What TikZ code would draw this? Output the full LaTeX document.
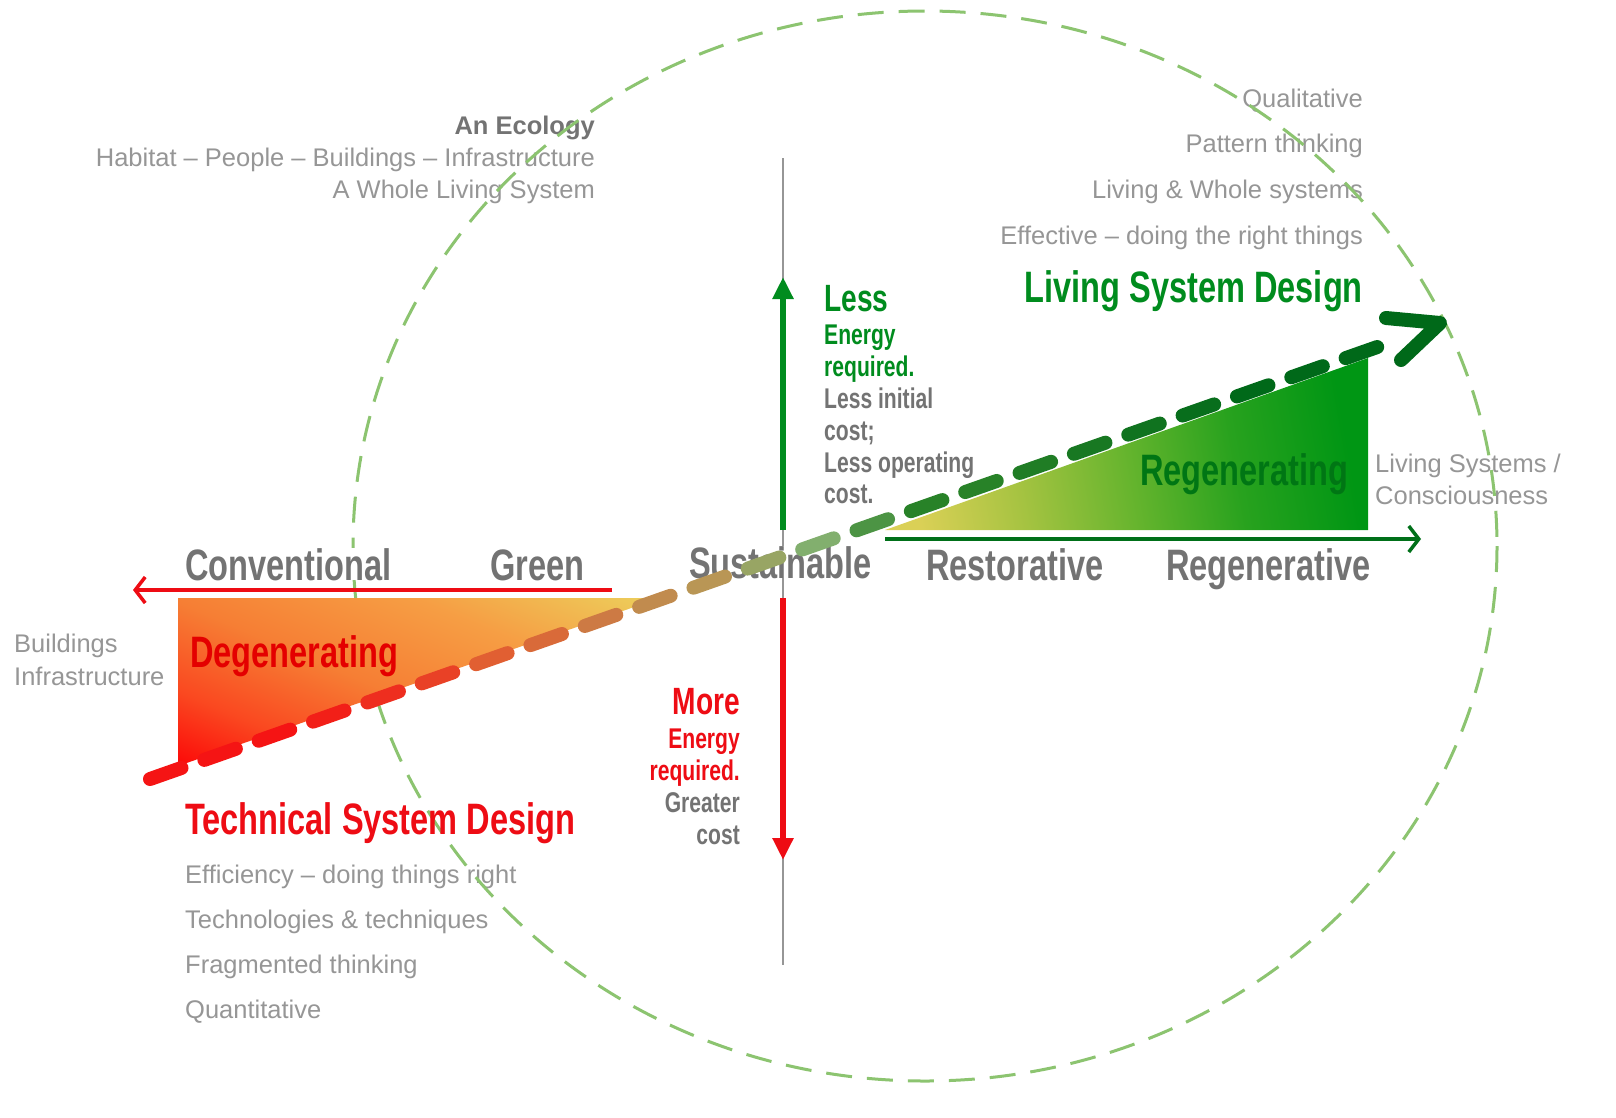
\documentclass[tikz,border=0pt]{standalone}
\usepackage{fontspec}
\setmainfont{Liberation Sans}
\newfontfamily\condbf[FakeStretch=0.74]{Liberation Sans Bold}
\usetikzlibrary{arrows.meta,calc}

\definecolor{ringgreen}{RGB}{140,196,112}
\definecolor{labgray}{RGB}{115,115,115}
\definecolor{softgray}{RGB}{150,150,150}
\definecolor{lsdgreen}{RGB}{0,140,30}
\definecolor{axgreen}{RGB}{0,112,25}
\definecolor{tsdred}{RGB}{238,12,20}
\definecolor{degtext}{RGB}{228,0,0}
\definecolor{degred}{RGB}{252,8,8}
\definecolor{degmid}{RGB}{250,72,32}
\definecolor{degorg}{RGB}{246,126,52}
\definecolor{deglight}{RGB}{246,158,68}
\definecolor{degyel}{RGB}{236,208,92}
\definecolor{regyel}{RGB}{218,208,86}
\definecolor{reglime}{RGB}{165,195,65}
\definecolor{regmid}{RGB}{100,180,45}
\definecolor{reggrn}{RGB}{40,162,30}
\definecolor{regdark}{RGB}{0,150,20}
\definecolor{regtext}{RGB}{0,118,20}
\definecolor{dred}{RGB}{245,20,20}
\definecolor{dorg}{RGB}{225,95,50}
\definecolor{dtan}{RGB}{185,150,85}
\definecolor{dpale}{RGB}{130,175,110}
\definecolor{dgrn}{RGB}{40,130,40}
\definecolor{ddark}{RGB}{0,105,25}

% gradients for the two wedges
\pgfdeclareverticalshading{degshade}{100bp}{color(0bp)=(degred); color(25bp)=(degred);
	color(35bp)=(degmid); color(47bp)=(degorg); color(61bp)=(deglight); color(75bp)=(degyel);
	color(100bp)=(degyel)}
\pgfdeclareverticalshading{regshade}{100bp}{color(0bp)=(regyel); color(25bp)=(regyel);
	color(37bp)=(reglime); color(50bp)=(regmid); color(62bp)=(reggrn); color(75bp)=(regdark);
	color(100bp)=(regdark)}

\tikzset{
	ring/.style={ringgreen, line width=3pt, dash pattern=on 26pt off 15pt},
	axisline/.style={softgray, line width=1.5pt},
	uparrow/.style={lsdgreen, line width=6pt, -{Triangle[length=22pt,width=20pt]}},
	downarrow/.style={tsdred, line width=6pt, -{Triangle[length=22pt,width=20pt]}},
	redaxis/.style={tsdred, line width=3.5pt, -{Straight Barb[length=10pt,width=26pt]}},
	greenaxis/.style={axgreen, line width=3.5pt, -{Straight Barb[length=10pt,width=26pt]}},
	bigdash/.style={line width=14pt, line cap=round, line join=round},
	steplbl/.style={inner sep=0pt, anchor=base west, labgray, fill=white, font=\condbf\fontsize{44}{50}\selectfont},
	headlbl/.style={inner sep=0pt, font=\condbf\fontsize{44}{50}\selectfont},
	sidelbl/.style={inner sep=0pt, font=\condbf\fontsize{28.5}{32}\selectfont},
	biglbl/.style={inner sep=0pt, font=\condbf\fontsize{38}{40}\selectfont},
	softtxt/.style={inner sep=0pt, softgray, font=\fontsize{25.5}{30}\selectfont},
}

\begin{document}
\begin{tikzpicture}[x=1pt,y=-1pt]
	\useasboundingbox[fill=white] (0,0) rectangle (1616,1117);

	% vertical axis
	\coordinate (axtop) at (783,158);
	\coordinate (axbot) at (783,965);
	\draw[axisline] (axtop) -- (axbot);

	% top left
	\node[softtxt, anchor=base east, labgray, font=\bfseries\fontsize{25.5}{30}\selectfont] (ecol) at (595,134) {An Ecology};
	\node[softtxt, anchor=base east] (habit) at (595,166) {Habitat – People – Buildings – Infrastructure};
	\node[softtxt, anchor=base east] (whole) at (595,198) {A Whole Living System};

	% top right
	\foreach \y/\t in {107/Qualitative, 152/Pattern thinking, 198/Living \& Whole systems, 244/Effective – doing the right things}
		\node[softtxt, anchor=base east] at (1363,\y) {\t};

	% sides
	\node[softtxt, anchor=base west] (bld) at (14,652) {Buildings};
	\node[softtxt, anchor=base west] (infra) at (14,685) {Infrastructure};
	\node[softtxt, anchor=base west] (lsys) at (1375,472) {Living Systems /};
	\node[softtxt, anchor=base west] (consc) at (1375,504) {Consciousness};

	% bottom left
	\foreach \y/\t in {883/Efficiency – doing things right, 928/Technologies \& techniques, 973/Fragmented thinking, 1018/Quantitative}
		\node[softtxt, anchor=base west] at (185,\y) {\t};

	% dashed ring
	\draw[ring] (925,546) ellipse [x radius=572, y radius=535];

	% the two wedges
	\coordinate (dtl) at (178,598);
	\coordinate (dtr) at (660,598);
	\coordinate (dbl) at (178,766);
	\begin{scope}
		\clip (dtl) -- (dtr) -- (dbl) -- cycle;
		\shade[shading=degshade, transform canvas={rotate around={-23.1:(dbl)}}]
			(98,766) rectangle (568,422.6);
	\end{scope}
	\coordinate (rl) at (885,530);
	\coordinate (rbr) at (1368,530);
	\coordinate (rtr) at (1368,358);
	\shade[shading=regshade, shading angle=-80] (rl) -- (rbr) -- (rtr) -- cycle;

	% arrows
	\coordinate (lessfoot) at (783,530);
	\coordinate (lesstip) at (783,277);
	\draw[uparrow] (lessfoot) -- (lesstip);
	\coordinate (morefoot) at (783,598);
	\coordinate (moretip) at (783,860);
	\draw[downarrow] (morefoot) -- (moretip);
	\coordinate (redfrom) at (612,590);
	\coordinate (redto) at (133,590);
	\draw[redaxis] (redfrom) -- (redto);
	\coordinate (grnfrom) at (885,539);
	\coordinate (grnto) at (1421,539);
	\draw[greenaxis] (grnfrom) -- (grnto);

	% steps along the axis
	\node[steplbl] (conv) at (185,580) {Conventional};
	\node[steplbl] (green) at (490,580) {Green};
	\node[steplbl] (sust) at (689,578) {Sustainable};
	\node[steplbl] (resto) at (926,580) {Restorative};
	\node[steplbl] (regen) at (1166,580) {Regenerative};
	\node[headlbl, anchor=base west, degtext] (degen) at (190,667) {Degenerating};
	\node[headlbl, anchor=base west, regtext] (regening) at (1140,485) {Regenerating};

	% design headings
	\node[headlbl, anchor=base east, lsdgreen] (lsd) at (1363,302) {Living System Design};
	\node[headlbl, anchor=base west, tsdred] (tsd) at (185,834) {Technical System Design};

	% less / more
	\node[biglbl, anchor=base west, lsdgreen] (less) at (824,311) {Less};
	\foreach \y/\t/\c in {344/Energy/lsdgreen, 376/required./lsdgreen, 408/Less initial/labgray, 440/cost;/labgray, 472/Less operating/labgray, 503/cost./labgray}
		\node[sidelbl, anchor=base west, \c] at (824,\y) {\t};
	\node[biglbl, anchor=base east, tsdred] (more) at (740,714) {More};
	\foreach \y/\t/\c in {748/Energy/tsdred, 780/required./tsdred, 812/Greater/labgray, 844/cost/labgray}
		\node[sidelbl, anchor=base east, \c] at (740,\y) {\t};

	% the long dashed arrow
	\coordinate (dstart) at (150,779);
	\coordinate (dend) at (1400,339);
	\foreach \i/\c in {0/dred, 1/dred, 2/dred, 3/dred!85!dorg, 4/dred!65!dorg, 5/dred!40!dorg,
		6/dorg, 7/dorg!80!dtan, 8/dorg!50!dtan, 9/dorg!20!dtan, 10/dtan, 11/dtan!40!dpale,
		12/dpale, 13/dpale!40!dgrn, 14/dgrn, 15/dgrn, 16/dgrn!80!ddark, 17/dgrn!60!ddark,
		18/dgrn!40!ddark, 19/dgrn!20!ddark, 20/ddark, 21/ddark, 22/ddark}{
		\pgfmathsetmacro\ta{\i/23}
		\pgfmathsetmacro\tb{(\i+0.58)/23}
		\draw[bigdash, \c] ($(dstart)!\ta!(dend)$) -- ($(dstart)!\tb!(dend)$);
	}
	\coordinate (headup) at (1386,318);
	\coordinate (bigtip) at (1440,323);
	\coordinate (headlow) at (1401,360);
	\draw[bigdash, ddark] (headup) -- (bigtip) -- (headlow);
\end{tikzpicture}
\end{document}
